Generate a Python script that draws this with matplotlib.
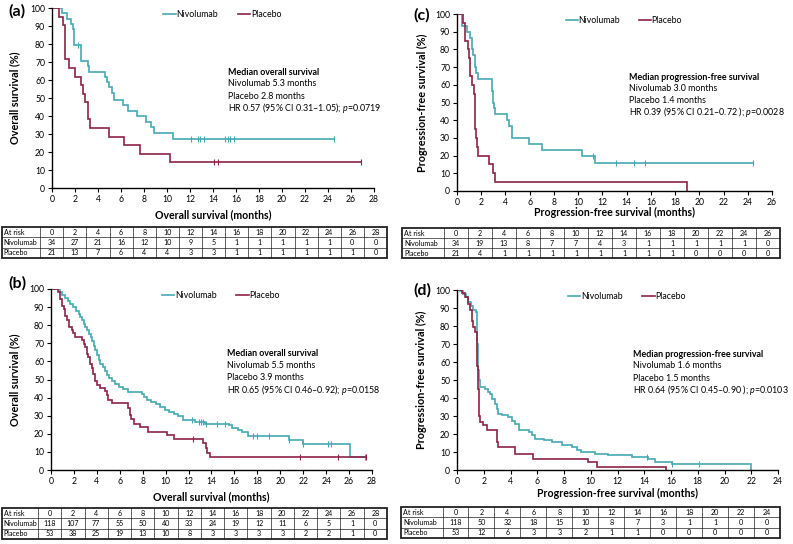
import numpy as np
import matplotlib
matplotlib.use('Agg')
import matplotlib.pyplot as plt
from matplotlib.patches import Rectangle

plt.rcParams['font.family'] = ['Lato', 'DejaVu Sans']
plt.rcParams['mathtext.fontset'] = 'custom'
plt.rcParams['mathtext.it'] = 'Lato:italic'
plt.rcParams['mathtext.rm'] = 'Lato'

NIVO_C = '#45A9B2'
PLAC_C = '#8E2346'
W, H = 793, 544

# ---------------- Panel (a): OS, cohort 1 ----------------
a_nivo_t = [0.85, 1.3, 1.65, 1.8, 1.9, 1.95, 2.5, 3.1, 3.2, 4.6, 4.75, 4.95, 5.2, 5.35, 6.2, 6.65, 7.4, 8.2, 8.6, 8.85, 10.5]
a_nivo_s = [97.1, 94.1, 91.2, 88.2, 85.3, 79.4, 70.6, 67.6, 64.7, 61.8, 58.8, 55.9, 52.9, 49.0, 46.0, 42.9, 39.8, 36.8, 33.7, 30.6, 27.5]
a_nivo_cens = [2.3, 12.1, 12.7, 12.85, 13.2, 15.0, 15.3, 15.5, 15.8, 24.5]
a_nivo_end = 24.5
a_plac_t = [0.6, 0.95, 1.1, 1.5, 2.0, 2.5, 2.7, 2.9, 3.15, 3.3, 4.95, 6.25, 7.65, 10.3]
a_plac_s = [95.2, 90.5, 71.4, 66.7, 61.9, 57.1, 52.4, 47.6, 38.1, 33.3, 28.6, 23.8, 19.0, 14.3]
a_plac_cens = [14.1, 14.4, 26.9]
a_plac_end = 26.9
a_months = [0, 2, 4, 6, 8, 10, 12, 14, 16, 18, 20, 22, 24, 26, 28]
a_risk_nivo = [34, 27, 21, 16, 12, 10, 9, 5, 1, 1, 1, 1, 1, 0, 0]
a_risk_plac = [21, 13, 7, 6, 4, 4, 3, 3, 1, 1, 1, 1, 1, 1, 0]
a_text = ['Median overall survival', 'Nivolumab 5.3 months', 'Placebo 2.8 months',
          r'HR 0.57 (95% CI 0.31–1.05); $p$=0.0719']

# ---------------- Panel (c): PFS, cohort 1 ----------------
c_nivo_t = [0.45, 0.8, 1.05, 1.2, 1.35, 1.5, 1.6, 1.75, 2.85, 2.95, 3.05, 3.15, 4.1, 4.3, 4.5, 5.95, 7.05, 10.3, 11.4]
c_nivo_s = [93.3, 90.0, 86.7, 80.0, 76.7, 70.0, 66.7, 63.3, 56.7, 50.0, 46.7, 43.3, 40.0, 36.7, 30.0, 26.7, 23.3, 20.0, 16.0]
c_nivo_cens = [11.25, 13.1, 14.6, 15.5, 24.4]
c_nivo_end = 24.4
c_plac_t = [0.5, 0.66, 0.88, 1.0, 1.08, 1.25, 1.38, 1.45, 1.52, 1.57, 1.62, 1.7, 2.6, 3.0, 3.1, 19.0]
c_plac_s = [95, 85, 80, 75, 65, 60, 55, 45, 35, 30, 25, 20, 15, 10, 5, 0]
c_plac_cens = []
c_plac_end = 19.0
c_months = [0, 2, 4, 6, 8, 10, 12, 14, 16, 18, 20, 22, 24, 26]
c_risk_nivo = [34, 19, 13, 8, 7, 7, 4, 3, 1, 1, 1, 1, 1, 0]
c_risk_plac = [21, 4, 1, 1, 1, 1, 1, 1, 1, 1, 0, 0, 0, 0]
c_text = ['Median progression-free survival', 'Nivolumab 3.0 months', 'Placebo 1.4 months',
          r'HR 0.39 (95% CI 0.21–0.72 ); $p$=0.0028']

# ---------------- Panel (b): OS, all ----------------
b_nivo_t = [0.8, 1.0, 1.2, 1.5, 1.7, 1.95, 2.2, 2.4, 2.55, 2.7, 2.85, 2.95, 3.1, 3.3, 3.45,
            3.6, 3.75, 3.85, 4.0, 4.15, 4.3, 4.5, 4.7, 4.9, 5.1, 5.3, 5.6, 5.9, 6.3, 6.75,
            7.9, 8.1, 8.4, 8.7, 9.2, 9.5, 9.95, 10.3, 10.7, 11.1, 11.5, 12.6, 13.4, 15.5, 15.8,
            16.3, 16.7, 17.2, 20.8, 22.0, 26.1]
b_nivo_s = [98.3, 96.6, 94.9, 93.2, 91.5, 89.8, 88.1, 86.4, 84.7, 83.0, 80.5, 78.8, 77.1, 75.4, 73.7,
            71.2, 68.6, 66.1, 63.6, 61.0, 58.5, 56.8, 54.6, 52.5, 50.8, 49.2, 47.5, 45.8, 44.5, 43.2,
            42.2, 40.5, 38.8, 37.5, 36.2, 34.7, 33.2, 32.2, 31.2, 29.8, 27.8, 26.6, 25.6, 24.6, 23.4,
            22.2, 20.8, 18.6, 16.6, 14.3, 7.2]
b_nivo_cens = [12.3, 12.9, 13.1, 13.3, 13.5, 14.5, 15.2, 17.6, 18.0, 19.0, 20.8, 22.0, 24.2, 24.4, 27.4]
b_nivo_end = 27.4
b_plac_t = [0.6, 0.8, 1.0, 1.1, 1.25, 1.4, 1.6, 1.8, 1.95, 2.1, 2.7, 2.85, 3.0, 3.15, 3.25,
            3.4, 3.55, 3.7, 3.85, 4.0, 4.3, 4.7, 4.85, 5.0, 5.3, 6.75, 6.85, 7.0, 7.2, 7.75,
            8.5, 10.1, 10.7, 13.3, 13.5, 13.6, 13.9]
b_plac_s = [98.1, 94.3, 90.6, 88.7, 84.9, 83.0, 79.2, 77.4, 75.5, 73.6, 71.7, 69.8, 67.9, 64.2, 62.3,
            58.5, 56.6, 52.8, 49.1, 47.2, 45.3, 43.4, 41.5, 38.7, 36.8, 34.0, 30.2, 28.3, 25.5, 23.6,
            21.2, 19.3, 17.0, 15.1, 12.3, 9.4, 7.0]
b_plac_cens = [12.4, 21.7, 25.0, 27.5]
b_plac_end = 27.5
b_months = [0, 2, 4, 6, 8, 10, 12, 14, 16, 18, 20, 22, 24, 26, 28]
b_risk_nivo = [118, 107, 77, 55, 50, 40, 33, 24, 19, 12, 11, 6, 5, 1, 0]
b_risk_plac = [53, 38, 25, 19, 13, 10, 8, 3, 3, 3, 3, 2, 2, 1, 0]
b_text = ['Median overall survival', 'Nivolumab 5.5 months', 'Placebo 3.9 months',
          r'HR 0.65 (95% CI 0.46–0.92); $p$=0.0158']

# ---------------- Panel (d): PFS, all ----------------
d_nivo_t = [0.25, 0.47, 0.65, 0.85, 1.05, 1.22, 1.4, 1.47, 1.5, 1.53, 1.56, 1.6, 1.65, 1.72, 2.1,
            2.3, 2.47, 2.65, 2.85, 3.0, 3.1, 3.34, 3.84, 4.1, 4.34, 4.6, 5.35, 5.6, 5.84, 6.5,
            7.1, 7.83, 8.58, 9.0, 9.3, 10.3, 11.3, 13.1, 14.3, 14.8, 16.05, 22.0]
d_nivo_s = [99.2, 98.0, 96.0, 93.3, 91.0, 88.7, 87.8, 85.0, 78.0, 70.0, 62.0, 55.4, 50.0, 46.0, 45.0,
            43.5, 42.4, 39.5, 36.8, 34.0, 31.3, 30.4, 29.4, 27.5, 25.7, 22.0, 21.1, 19.2, 17.4, 16.5,
            15.5, 13.7, 12.8, 11.2, 10.0, 9.0, 8.1, 7.2, 6.3, 4.4, 3.5, 0]
d_nivo_cens = [14.2, 16.1, 18.1]
d_nivo_end = 22.0
d_plac_t = [0.35, 0.6, 0.8, 1.0, 1.1, 1.2, 1.35, 1.47, 1.5, 1.53, 1.56, 1.6, 1.63, 1.66, 1.72,
            1.97, 2.22, 2.97, 3.1, 4.34, 5.7, 9.8, 10.45, 15.6]
d_plac_s = [98.1, 96.2, 92.5, 88.7, 83.0, 79.2, 76.7, 74.0, 66.0, 58.0, 53.5, 45.0, 36.8, 30.0, 26.7,
            24.8, 22.0, 15.5, 12.8, 9.0, 6.3, 4.4, 1.9, 0]
d_plac_cens = []
d_plac_end = 15.6
d_months = [0, 2, 4, 6, 8, 10, 12, 14, 16, 18, 20, 22, 24]
d_risk_nivo = [118, 50, 32, 18, 15, 10, 8, 7, 3, 1, 1, 0, 0]
d_risk_plac = [53, 12, 6, 3, 3, 2, 1, 1, 0, 0, 0, 0, 0]
d_text = ['Median progression-free survival', 'Nivolumab 1.6 months', 'Placebo 1.5 months',
          r'HR 0.64 (95% CI 0.45–0.90 ); $p$=0.0103']

fig = plt.figure(figsize=(W / 100, H / 100), dpi=100)


def rect(x0, x1, ytop, ybot):
    return [x0 / W, 1 - ybot / H, (x1 - x0) / W, (ybot - ytop) / H]


def km(ax, t, s, cens, end, color):
    t = np.asarray(t, float)
    s = np.asarray(s, float)
    x = np.r_[0.0, t, end]
    y = np.r_[100.0, s, s[-1]]
    ax.step(x, y, where='post', color=color, lw=1.2, solid_joinstyle='miter')
    if len(cens):
        cens = np.asarray(cens, float)
        idx = np.searchsorted(t, cens, side='right') - 1
        yc = np.where(idx >= 0, s[np.clip(idx, 0, None)], 100.0)
        ax.plot(cens, yc, ls='none', marker='|', ms=4, mew=0.8, color=color)


def panel(axrect, label, labpos, xmax, xlabel, ylabel, nivo, plac, text,
          ylab_off, xlab_y):
    ax = fig.add_axes(axrect)
    km(ax, *nivo, NIVO_C)
    km(ax, *plac, PLAC_C)
    ax.set_xlim(0, xmax)
    ax.set_ylim(0, 100)
    ax.set_xticks(np.arange(0, xmax + 1, 2))
    ax.set_yticks(np.arange(0, 101, 10))
    for sp in ['top', 'right']:
        ax.spines[sp].set_visible(False)
    for sp in ['left', 'bottom']:
        ax.spines[sp].set_linewidth(1.0)
    ax.tick_params(labelsize=6.2, length=3, width=0.8, pad=2, direction='out')
    ax.set_ylabel(ylabel, fontsize=7.8, fontweight='bold')
    ax.yaxis.set_label_coords(ylab_off, 0.5)
    # x-axis title placed at its measured centre line
    x0 = axrect[0] + axrect[2] / 2
    fig.text(x0, 1 - xlab_y / H, xlabel, fontsize=7.6, fontweight='bold', ha='center', va='center')
    # legend
    ly = 0.965
    ax.plot([0.346, 0.384], [ly, ly], color=NIVO_C, lw=1.2, transform=ax.transAxes, clip_on=False)
    ax.text(0.386, ly, 'Nivolumab', transform=ax.transAxes, fontsize=6.3, va='center', ha='left')
    ax.plot([0.577, 0.616], [ly, ly], color=PLAC_C, lw=1.2, transform=ax.transAxes, clip_on=False)
    ax.text(0.618, ly, 'Placebo', transform=ax.transAxes, fontsize=6.3, va='center', ha='left')
    # annotation
    ys = [0.644, 0.578, 0.511, 0.444]
    for i, (ln, yy) in enumerate(zip(text, ys)):
        ax.text(0.547, yy, ln, transform=ax.transAxes, fontsize=6.4, va='center', ha='left',
                fontweight='bold' if i == 0 else 'normal')
    fig.text(labpos[0] / W, 1 - labpos[1] / H, label, fontsize=11.5, fontweight='bold',
             ha='center', va='center')
    return ax


def table(trect, months, nivo, plac, first_w):
    tax = fig.add_axes(trect)
    n = len(months)
    total = first_w + n
    tax.set_xlim(0, total)
    tax.set_ylim(0, 3)
    tax.axis('off')
    rows = [('At risk', months), ('Nivolumab', nivo), ('Placebo', plac)]
    for r, (lab, vals) in enumerate(rows):
        yc = 2.5 - r
        tax.text(0.08, yc, lab, ha='left', va='center', fontsize=5.1)
        for i, v in enumerate(vals):
            tax.text(first_w + i + 0.5, yc, str(v), ha='center', va='center', fontsize=5.1)
    for yy in [1, 2]:
        tax.plot([0, total], [yy, yy], color='#222222', lw=0.5, clip_on=False)
    for i in range(n):
        xx = first_w + i
        tax.plot([xx, xx], [0, 3], color='#222222', lw=0.5, clip_on=False)
    tax.add_patch(Rectangle((0, 0), total, 3, fill=False, lw=1.3, ec='#222222', clip_on=False))


panel(rect(52, 374, 8, 188), '(a)', (17, 11), 28, 'Overall survival (months)', 'Overall survival (%)',
      (a_nivo_t, a_nivo_s, a_nivo_cens, a_nivo_end), (a_plac_t, a_plac_s, a_plac_cens, a_plac_end),
      a_text, -32 / 322, 215)
table(rect(2, 387, 227, 258), a_months, a_risk_nivo, a_risk_plac, 1.65)

panel(rect(457, 772, 14, 191), '(c)', (422, 15), 26, 'Progression-free survival (months)',
      'Progression-free survival (%)',
      (c_nivo_t, c_nivo_s, c_nivo_cens, c_nivo_end), (c_plac_t, c_plac_s, c_plac_cens, c_plac_end),
      c_text, -29 / 315, 212)
table(rect(402, 780, 228, 258), c_months, c_risk_nivo, c_risk_plac, 1.75)

panel(rect(51, 372, 289, 470), '(b)', (17, 283), 28, 'Overall survival (months)', 'Overall survival (%)',
      (b_nivo_t, b_nivo_s, b_nivo_cens, b_nivo_end), (b_plac_t, b_plac_s, b_plac_cens, b_plac_end),
      b_text, -31 / 321, 497)
table(rect(2, 387, 508, 539), b_months, b_risk_nivo, b_risk_plac, 1.55)

panel(rect(457, 778, 290, 470), '(d)', (422, 290), 24, 'Progression-free survival (months)',
      'Progression-free survival (%)',
      (d_nivo_t, d_nivo_s, d_nivo_cens, d_nivo_end), (d_plac_t, d_plac_s, d_plac_cens, d_plac_end),
      d_text, -30 / 321, 493)
table(rect(401, 780, 507, 538), d_months, d_risk_nivo, d_risk_plac, 1.6)

fig.savefig('out.png', dpi=100)
